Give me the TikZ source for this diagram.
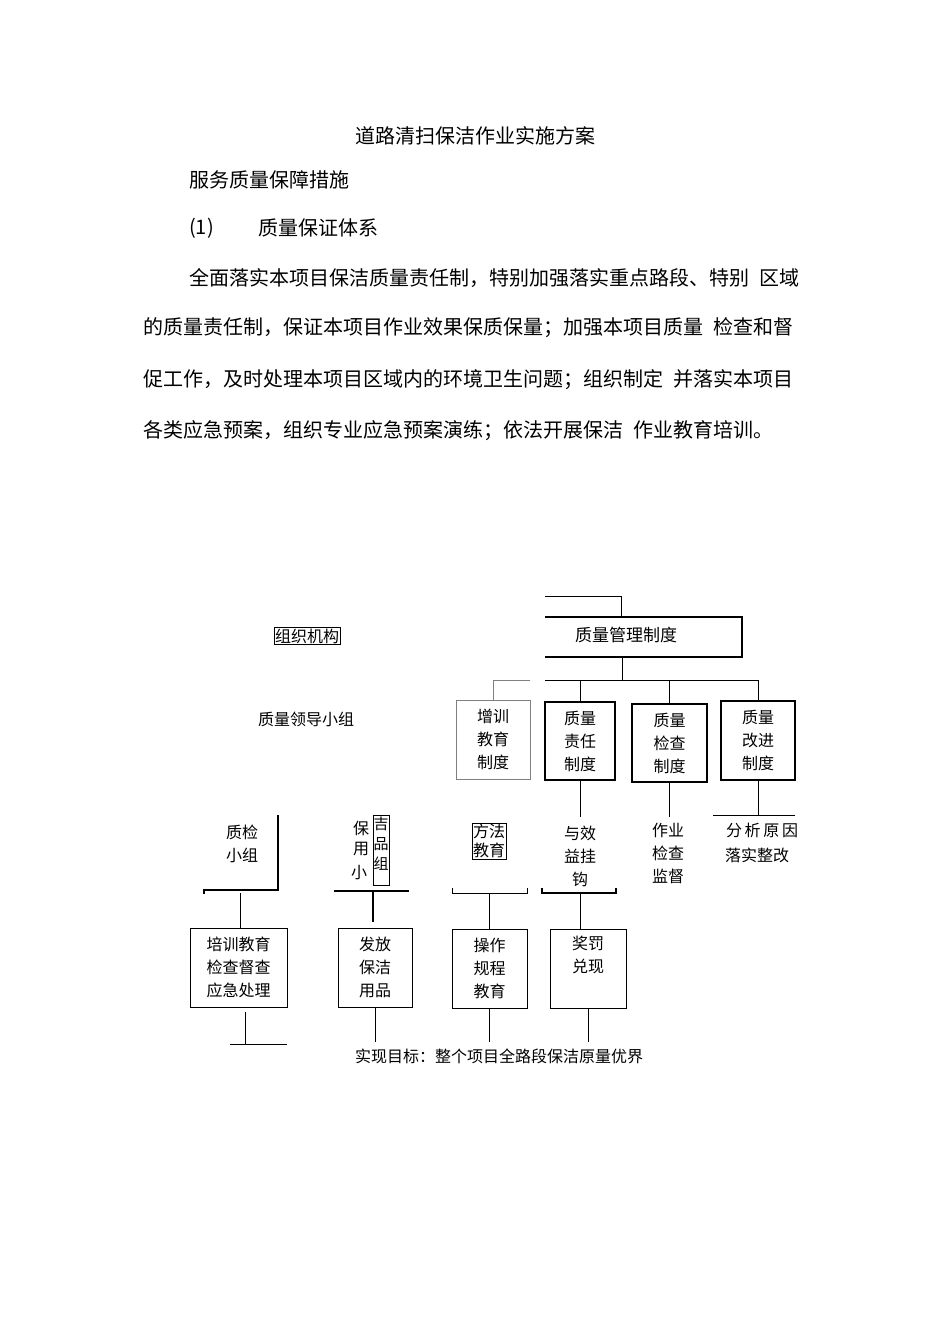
\documentclass[tikz,border=0pt]{standalone}
\usepackage{fontspec}
\setmainfont{Noto Sans CJK SC}
\begin{document}
\begin{tikzpicture}[x=1pt,y=-1pt,
  body/.style={anchor=west,inner sep=0,font=\fontsize{20}{20}\selectfont},
  lbl/.style={inner sep=0,font=\fontsize{16}{23}\selectfont,align=center},
  thick box/.style={draw,line width=1.4pt},
  thin box/.style={draw,line width=0.6pt},
  ln/.style={line width=1pt},
  gl/.style={line width=0.6pt,gray}]
\useasboundingbox (0,0) rectangle (950,1344);
\node[inner sep=0,font=\fontsize{20}{20}\selectfont] (title) at (475,136) {道路清扫保洁作业实施方案};
\node[body] (t1) at (189,180) {服务质量保障措施};
\node[body] (t2) at (189,228) {(1)};
\node[body] (t3) at (258,228) {质量保证体系};
\node[body] (p1) at (189,278) {全面落实本项目保洁质量责任制，特别加强落实重点路段、特别\,\,\,区域};
\node[body] (p2) at (143,328) {的质量责任制，保证本项目作业效果保质保量；加强本项目质量\,\,\,检查和督};
\node[body] (p3) at (143,380) {促工作，及时处理本项目区域内的环境卫生问题；组织制定\,\,\,并落实本项目};
\node[body] (p4) at (143,431) {各类应急预案，组织专业应急预案演练；依法开展保洁\,\,\,作业教育培训。};
% top
\coordinate (a1) at (545,596); \coordinate (a2) at (621,596); \coordinate (a3) at (621,617);
\draw[ln] (a1) -- (a2) -- (a3);
\coordinate (m1) at (545,617); \coordinate (m2) at (742,617); \coordinate (m3) at (742,657); \coordinate (m4) at (545,657);
\draw[thick box] (m1) -- (m2) -- (m3) -- (m4);
\node[lbl,font=\fontsize{17}{19}\selectfont] (zl) at (626,635) {质量管理制度};
\coordinate (b0) at (622,657); \coordinate (b1) at (622,680);
\draw[ln] (b0) -- (b1);
\coordinate (bus1) at (545,680); \coordinate (bus2) at (758,680);
\draw[ln] (bus1) -- (bus2);
\node[thin box,gray,minimum width=74,minimum height=79,inner sep=0] (zx) at (493,739.5) {};
\node[lbl] at (zx) {增训\\教育\\制度};
\coordinate (g1) at (530,680); \coordinate (g2) at (493,680);
\draw[gl] (g1) -- (g2) -- (zx.north);
\node[thick box,minimum width=70,minimum height=78,inner sep=0] (zr) at (580,741) {};
\node[lbl] at (zr) {质量\\责任\\制度};
\node[thick box,minimum width=75,minimum height=78,inner sep=0] (zj) at (669.5,743) {};
\node[lbl] at (zj) {质量\\检查\\制度};
\node[thick box,minimum width=74,minimum height=79,inner sep=0] (zg) at (758,740.5) {};
\node[lbl] at (zg) {质量\\改进\\制度};
\draw[ln] (zr.north |- bus1) -- (zr.north);
\draw[ln] (zj.north |- bus1) -- (zj.north);
\draw[ln] (zg.north |- bus1) -- (zg.north);
\coordinate (r1) at (580,817); \coordinate (j1) at (669.5,817); \coordinate (c1) at (758,815);
\draw[gl,black] (zr.south) -- (r1);
\draw[gl,black] (zj.south) -- (j1);
\draw[ln] (zg.south) -- (c1);
\coordinate (c2) at (713,815); \coordinate (c3) at (795,815);
\draw[ln] (c2) -- (c3);
\node[lbl] (yx) at (580,856) {与效\\益挂\\钩};
\node[lbl] (zy) at (668,853) {作业\\检查\\监督};
\node[lbl] (fx) at (762,830) {分\,析\,原\,因};
\node[lbl] (ls) at (757,855) {落实整改};
% left
\node[thin box,inner sep=1pt,font=\fontsize{16}{16}\selectfont] (zz) at (307,636) {组织机构};
\node[lbl] (ld) at (306,719) {质量领导小组};
\node[lbl] (zjx) at (242,844) {质检\\小组};
\coordinate (q1) at (278,815); \coordinate (q2) at (278,890); \coordinate (q3) at (204,890); \coordinate (q4) at (204,894);
\draw[line width=1.4pt] (q1) -- (q2) -- (q3) -- (q4);
\node[lbl,font=\fontsize{16}{20}\selectfont] (bao) at (361,838) {保\\用};
\node[thin box,minimum width=16,minimum height=70,inner sep=0] (jp) at (381,850) {};
\node[lbl,font=\fontsize{15}{20}\selectfont] at (381,844) {吉\\品\\组};
\node[lbl] (xiao) at (359,873) {小};
\coordinate (s1) at (334,891); \coordinate (s2) at (409,891); \coordinate (s3) at (373,891);
\draw[line width=1.6pt] (s1) -- (s2);
\node[thin box,inner sep=1pt,align=center,font=\fontsize{16}{19}\selectfont] (ff) at (489,841) {方法\\教育};
\coordinate (f1) at (452,888); \coordinate (f2) at (452,893); \coordinate (f3) at (527,893); \coordinate (f4) at (527,888);
\draw[ln] (f1) -- (f2) -- (f3) -- (f4);
\coordinate (h1) at (542,888); \coordinate (h2) at (542,893); \coordinate (h3) at (616,893); \coordinate (h4) at (616,888);
\draw[line width=1.3pt] (h1) -- (h2) -- (h3) -- (h4);
% bottom boxes
\node[thick box,line width=1pt,minimum width=97,minimum height=79,inner sep=0] (px) at (238.5,967.5) {};
\node[lbl] at (px) {培训教育\\检查督查\\应急处理};
\node[thick box,line width=1pt,minimum width=74,minimum height=79,inner sep=0] (ff2) at (375,967.5) {};
\node[lbl] at (ff2) {发放\\保洁\\用品};
\node[thick box,line width=1pt,minimum width=75,minimum height=79,inner sep=0] (cz) at (489.5,968.5) {};
\node[lbl] at (cz) {操作\\规程\\教育};
\node[thin box,line width=0.8pt,minimum width=76,minimum height=79,inner sep=0] (jf) at (588,968.5) {};
\node[lbl,anchor=north] at (588,936) {奖罚\\兑现};
\draw[gl,black] (240,893) -- (240,928);
\draw[line width=2pt] (s3) -- (373,922);
\draw[ln] (489.5,893) -- (cz.north);
\draw[ln] (580,893) -- (580,929);
\coordinate (e1) at (245,1012); \coordinate (e2) at (245,1044); \coordinate (e3) at (230,1044); \coordinate (e4) at (287,1044);
\draw[ln] (e1) -- (e2); \draw[gl,black] (e3) -- (e4);
\draw[ln] (ff2.south) -- (375,1042);
\draw[ln] (cz.south) -- (489.5,1042);
\draw[ln] (jf.south) -- (588,1042);
\node[lbl,font=\fontsize{16}{18}\selectfont] (goal) at (499,1056) {实现目标：整个项目全路段保洁原量优界};
\end{tikzpicture}
\end{document}
